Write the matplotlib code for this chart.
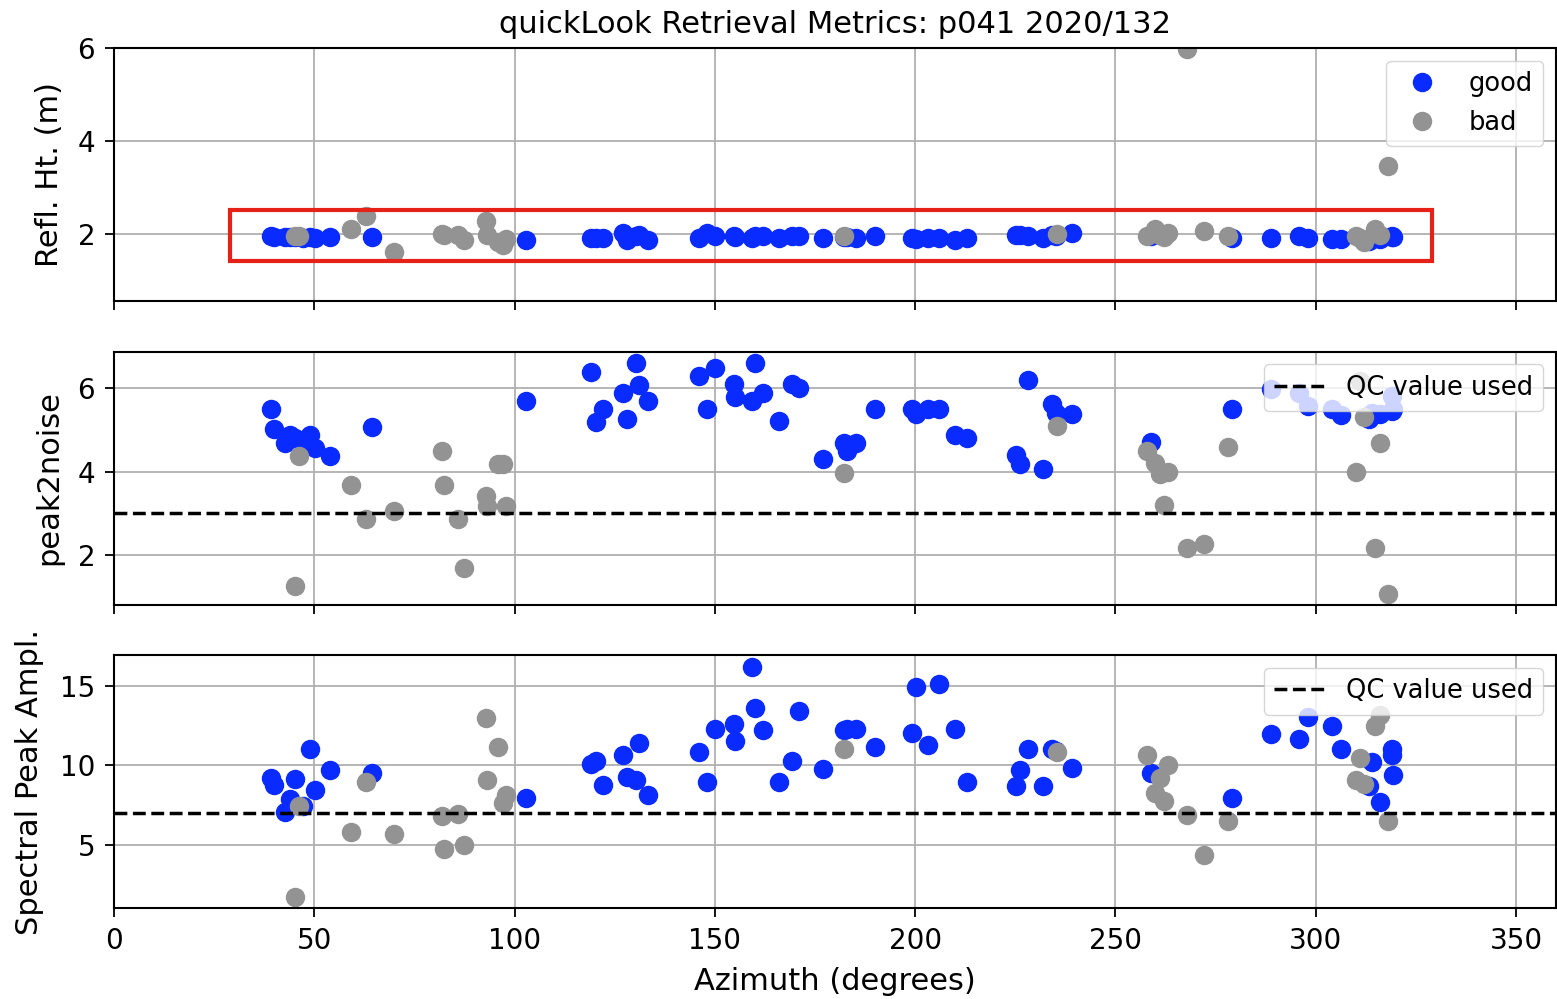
import matplotlib
matplotlib.use('Agg')
import matplotlib.pyplot as plt
from matplotlib.patches import Rectangle

# good retrievals (azimuth in degrees)
good_az = [39.3, 40.0, 42.8, 44.0, 45.3, 47.2, 49.0, 50.1, 54.0, 64.3, 102.9, 119.0, 120.3, 122.0,
           127.0, 128.0, 130.2, 131.0, 133.2, 146.1, 148.0, 150.0, 154.9, 155.0, 159.2, 160.0, 162.1,
           166.1, 169.2, 171.1, 177.1, 182.3, 183.1, 185.2, 190.0, 199.3, 200.2, 203.1, 206.0, 210.0,
           213.0, 225.1, 226.1, 228.2, 232.0, 234.2, 235.1, 239.1, 259.0, 279.0, 288.9, 295.8, 298.1,
           304.1, 306.3, 313.3, 314.0, 316.1, 319.0, 319.1, 319.2]
good_reflht = [1.94, 1.93, 1.92, 1.93, 1.92, 1.91, 1.92, 1.91, 1.93, 1.92, 1.87, 1.91, 1.91, 1.91,
               2.02, 1.87, 1.95, 1.98, 1.87, 1.91, 2.02, 1.94, 1.94, 1.92, 1.91, 1.94, 1.94,
               1.91, 1.94, 1.94, 1.91, 1.93, 1.92, 1.91, 1.94, 1.91, 1.89, 1.91, 1.91, 1.87,
               1.91, 1.98, 1.96, 1.94, 1.91, 1.97, 1.95, 2.02, 1.95, 1.91, 1.91, 1.94, 1.91,
               1.88, 1.88, 1.85, 1.88, 1.88, 1.94, 1.93, 1.92]
good_p2n = [5.48, 5.02, 4.68, 4.88, 4.80, 4.72, 4.88, 4.57, 4.38, 5.06, 5.67, 6.37, 5.18, 5.48,
            5.87, 5.26, 6.59, 6.07, 5.67, 6.27, 5.48, 6.47, 6.09, 5.77, 5.67, 6.59, 5.87,
            5.20, 6.09, 5.99, 4.29, 4.68, 4.48, 4.68, 5.48, 5.48, 5.37, 5.48, 5.48, 4.88,
            4.79, 4.40, 4.18, 6.17, 4.07, 5.60, 5.40, 5.38, 4.70, 5.48, 5.97, 5.87, 5.55,
            5.48, 5.34, 5.25, 5.40, 5.36, 5.44, 5.79, 5.50]
good_amp = [9.22, 8.73, 7.07, 7.89, 9.16, 7.42, 11.01, 8.42, 9.70, 9.54, 7.96, 10.11, 10.27, 8.73,
            10.65, 9.26, 9.07, 11.43, 8.12, 10.84, 8.94, 12.32, 12.59, 11.54, 16.18, 13.59, 12.24,
            8.94, 10.27, 13.44, 9.75, 12.20, 12.28, 12.28, 11.16, 12.01, 14.92, 11.27, 15.13, 12.32,
            8.94, 8.69, 9.68, 11.01, 8.69, 11.01, 10.90, 9.85, 9.54, 7.96, 11.96, 11.69, 13.02,
            12.45, 11.06, 8.69, 10.21, 7.68, 11.01, 10.63, 9.37]

# bad retrievals
bad_az = [45.1, 46.1, 59.2, 63.0, 69.9, 82.0, 82.3, 86.0, 87.3, 92.8, 93.0, 95.8, 97.2, 97.8,
          182.3, 235.3, 258.0, 260.0, 261.1, 262.1, 263.2, 267.9, 272.1, 278.1, 310.0, 311.1,
          312.0, 314.9, 316.1, 318.0]
bad_reflht = [1.95, 1.94, 2.09, 2.39, 1.61, 1.99, 1.97, 1.98, 1.86, 2.28, 1.98, 1.82, 1.76, 1.89,
              1.94, 1.99, 1.94, 2.09, 1.97, 1.93, 2.01, 5.97, 2.05, 1.94, 1.94, 1.90,
              1.82, 2.09, 1.97, 3.46]
bad_p2n = [1.27, 4.36, 3.69, 2.87, 3.07, 4.48, 3.69, 2.87, 1.69, 3.41, 3.17, 4.19, 4.19, 3.18,
           3.97, 5.08, 4.48, 4.21, 3.93, 3.21, 3.98, 2.18, 2.28, 4.59, 3.98, 6.15,
           5.30, 2.18, 4.68, 1.09]
bad_amp = [1.69, 7.42, 5.78, 8.94, 5.68, 6.79, 4.75, 6.96, 4.96, 12.96, 9.07, 11.16, 7.64, 8.12,
           11.01, 10.84, 10.63, 8.23, 9.22, 7.78, 10.0, 6.85, 4.37, 6.47, 9.07, 10.44,
           8.80, 12.45, 13.18, 6.52]

p2n_qc = 3
amp_qc = 7

fs = 20
lab_fs = 22
leg_fs = 18.5
plt.rcParams['font.size'] = fs
plt.rcParams['axes.linewidth'] = 1.5
plt.rcParams['xtick.major.size'] = 6.5
plt.rcParams['ytick.major.size'] = 6.5
plt.rcParams['xtick.major.width'] = 1.3
plt.rcParams['ytick.major.width'] = 1.3
plt.rcParams['xtick.major.pad'] = 7
plt.rcParams['ytick.major.pad'] = 7

good_col = '#0a2bff'
bad_col = '#939393'
ms = 13

fig, axes = plt.subplots(3, 1, figsize=(15.57, 9.99), dpi=100, sharex=True)
fig.subplots_adjust(left=0.0732, right=0.9994, top=0.952, bottom=0.091, hspace=0.2)
ax1, ax2, ax3 = axes

ax1.plot(good_az, good_reflht, 'o', color=good_col, ms=ms, label='good')
ax1.plot(bad_az, bad_reflht, 'o', color=bad_col, ms=ms, label='bad')
ax1.set_ylabel('Refl. Ht. (m)', fontsize=lab_fs, labelpad=10)
ax1.set_ylim(0.55, 6)
ax1.set_yticks([2, 4, 6])
ax1.set_title('quickLook Retrieval Metrics: p041 2020/132', fontsize=lab_fs, pad=10.5)
ax1.legend(loc='upper right', fontsize=leg_fs)
ax1.add_patch(Rectangle((29, 1.4), 300, 1.1, fill=False, edgecolor='#e62117', lw=3, zorder=5))

ax2.plot(good_az, good_p2n, 'o', color=good_col, ms=ms)
ax2.plot(bad_az, bad_p2n, 'o', color=bad_col, ms=ms)
ax2.axhline(p2n_qc, color='k', ls='--', lw=2.5, label='QC value used')
ax2.set_ylabel('peak2noise', fontsize=lab_fs, labelpad=10)
ax2.set_ylim(0.83, 6.86)
ax2.set_yticks([2, 4, 6])
ax2.legend(loc='upper right', fontsize=leg_fs)

ax3.plot(good_az, good_amp, 'o', color=good_col, ms=ms)
ax3.plot(bad_az, bad_amp, 'o', color=bad_col, ms=ms)
ax3.axhline(amp_qc, color='k', ls='--', lw=2.5, label='QC value used')
ax3.set_ylabel('Spectral Peak Ampl.', fontsize=lab_fs, labelpad=11.5)
ax3.set_ylim(1.0, 16.95)
ax3.set_yticks([5, 10, 15])
ax3.legend(loc='upper right', fontsize=leg_fs)
ax3.set_xlabel('Azimuth (degrees)', fontsize=lab_fs, labelpad=9)
ax3.set_xlim(0, 360)
ax3.set_xticks(range(0, 351, 50))

for ax in axes:
    ax.grid(True, color='#b0b0b0', lw=1.3)
    ax.set_axisbelow(True)

plt.savefig('out.png')
